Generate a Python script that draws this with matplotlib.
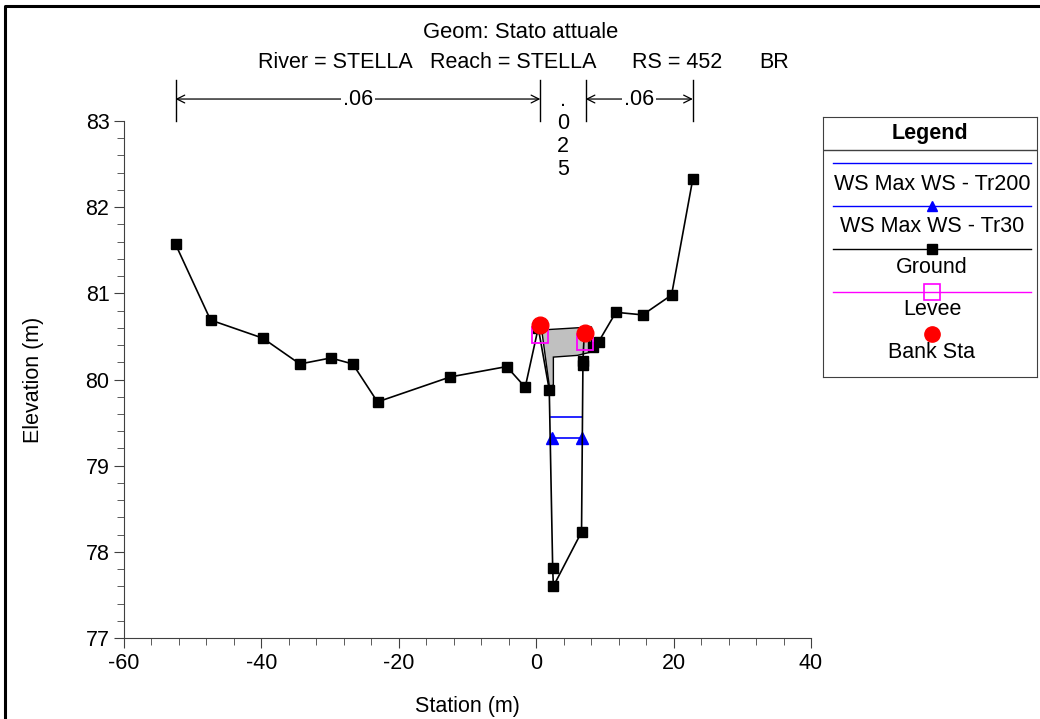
import numpy as np
import matplotlib
matplotlib.use('Agg')
import matplotlib.pyplot as plt
from matplotlib.lines import Line2D

plt.rcParams['font.family'] = ['Liberation Sans', 'DejaVu Sans']
plt.rcParams['axes.unicode_minus'] = False

# ground profile (station, elevation)
ground_sta = [-52.5, -47.4, -39.8, -34.4, -29.9, -26.7, -23.1, -12.5, -4.3, -1.6,
              0.3, 1.9, 2.4, 2.5, 6.6, 6.8, 6.8, 7.0, 8.2, 9.1, 11.6, 15.5, 19.7, 22.8]
ground_elev = [81.57, 80.69, 80.48, 80.18, 80.25, 80.18, 79.74, 80.03, 80.15, 79.91,
               80.60, 79.88, 77.81, 77.60, 78.23, 80.17, 80.22, 80.54, 80.38, 80.44,
               80.78, 80.75, 80.98, 82.33]

# bridge deck outline
deck_sta = [0.8, 8.06, 8.06, 6.0, 2.5, 2.5, 1.95]
deck_elev = [80.575, 80.61, 80.32, 80.28, 80.26, 79.94, 79.90]

# water surfaces
ws200_sta = [2.2, 6.7]
ws200_elev = [79.57, 79.57]
ws30_sta = [2.35, 6.7]
ws30_elev = [79.32, 79.32]

# levees and bank stations
levee_sta = [0.6, 7.05]
levee_elev = [80.52, 80.43]
bank_sta = [0.5, 7.05]
bank_elev = [80.63, 80.54]

# manning's n regions
n_bounds = [-52.5, 0.6, 7.2, 22.8]
n_values = ['.06', '.025', '.06']

FS = 15.5
W, H = 1040, 719
fig = plt.figure(figsize=(W / 100, H / 100), dpi=100)

def fx(p):
    return p / W

def fy(p):
    return 1 - p / H

ax = fig.add_axes([fx(124), fy(638), fx(811) - fx(124), fy(121) - fy(638)])

ax.fill(deck_sta, deck_elev, facecolor='#c0c0c0', edgecolor='black', lw=1.0, zorder=2)
ax.plot(ws200_sta, ws200_elev, color='#0000ff', lw=1.2, zorder=3)
ax.plot(ws30_sta, ws30_elev, color='#0000ff', lw=1.2, marker='^', ms=8, zorder=3)
ax.plot(ground_sta, ground_elev, color='black', lw=1.2, marker='s', ms=6.5, zorder=4)
ax.plot(levee_sta, levee_elev, ls='none', marker='s', ms=12, mfc='none',
        mec='#ff00ff', mew=1.3, zorder=5)
ax.plot(bank_sta, bank_elev, ls='none', marker='o', ms=12, color='#ff0000', zorder=6)

ax.set_xlim(-60, 40)
ax.set_ylim(77, 83)
ax.set_xticks(np.arange(-60, 41, 20))
ax.set_xticks(np.arange(-60, 41, 4), minor=True)
ax.set_yticks(np.arange(77, 84, 1))
ax.set_yticks(np.arange(77, 83.01, 0.2), minor=True)
ax.spines['top'].set_visible(False)
ax.spines['right'].set_visible(False)
for s in ['left', 'bottom']:
    ax.spines[s].set_color('#404040')
ax.tick_params(which='major', length=7, labelsize=FS, direction='out', color='#404040')
ax.tick_params(which='minor', length=5, direction='out', color='#404040')
ax.set_xlabel('Station (m)', fontsize=FS, labelpad=16)
ax.set_ylabel('Elevation (m)', fontsize=FS, labelpad=30)

# n-value dimension lines above the plot
for b in n_bounds:
    ax.plot([b, b], [83.0, 83.476], color='black', lw=1, clip_on=False)
for i in [0, 2]:
    ax.annotate('', xy=(n_bounds[i], 83.255), xytext=(n_bounds[i + 1], 83.255),
                arrowprops=dict(arrowstyle='<->', lw=0.9, shrinkA=0, shrinkB=0,
                                mutation_scale=14), annotation_clip=False)
    ax.text((n_bounds[i] + n_bounds[i + 1]) / 2, 83.255, n_values[i], fontsize=FS,
            ha='center', va='center', clip_on=False,
            bbox=dict(facecolor='white', edgecolor='none', pad=1.5))
ax.text((n_bounds[1] + n_bounds[2]) / 2, 82.84, '\n'.join(n_values[1]), fontsize=FS,
        ha='center', va='center', multialignment='center', linespacing=1.12,
        clip_on=False)

# titles
fig.text(fx(521), fy(32), 'Geom: Stato attuale', fontsize=15.8, ha='center', va='center')
for label, xp in [('River = STELLA', 258), ('Reach = STELLA', 430),
                  ('RS = 452', 632), ('BR', 759)]:
    fig.text(fx(xp), fy(62), label, fontsize=FS, ha='left', va='center')

# legend box
lg = fig.add_axes([fx(823), fy(377), fx(1037) - fx(823), fy(117) - fy(377)])
lg.set_xlim(823, 1037)
lg.set_ylim(377, 117)
lg.set_xticks([])
lg.set_yticks([])
for s in lg.spines.values():
    s.set_color('#404040')
lg.text(930, 133, 'Legend', fontsize=FS, fontweight='bold', ha='center', va='center')
lg.plot([823, 1037], [150, 150], color='#404040', lw=1)
mid = 932
lg.plot([833, 1031], [163, 163], color='#0000ff', lw=1)
lg.text(mid, 185, 'WS Max WS - Tr200', fontsize=FS, ha='center', va='center')
lg.plot([833, 1031], [206, 206], color='#0000ff', lw=1)
lg.plot([mid], [206], marker='^', ms=7, color='#0000ff')
lg.text(mid, 227, 'WS Max WS - Tr30', fontsize=FS, ha='center', va='center')
lg.plot([833, 1031], [249, 249], color='black', lw=1)
lg.plot([mid], [249], marker='s', ms=6.5, color='black')
lg.text(mid, 268, 'Ground', fontsize=FS, ha='center', va='center')
lg.plot([833, 1031], [292, 292], color='#ff00ff', lw=1)
lg.plot([mid], [292], marker='s', ms=12, mfc='none', mec='#ff00ff', mew=1.2)
lg.text(mid, 310, 'Levee', fontsize=FS, ha='center', va='center')
lg.plot([mid], [334], marker='o', ms=11, color='#ff0000')
lg.text(mid, 353, 'Bank Sta', fontsize=FS, ha='center', va='center')

# outer frame (left and top edges visible)
fig.add_artist(Line2D([fx(5), fx(5), 1], [0, fy(6), fy(6)], color='black', lw=2.2))

fig.savefig('out.png', dpi=100)
